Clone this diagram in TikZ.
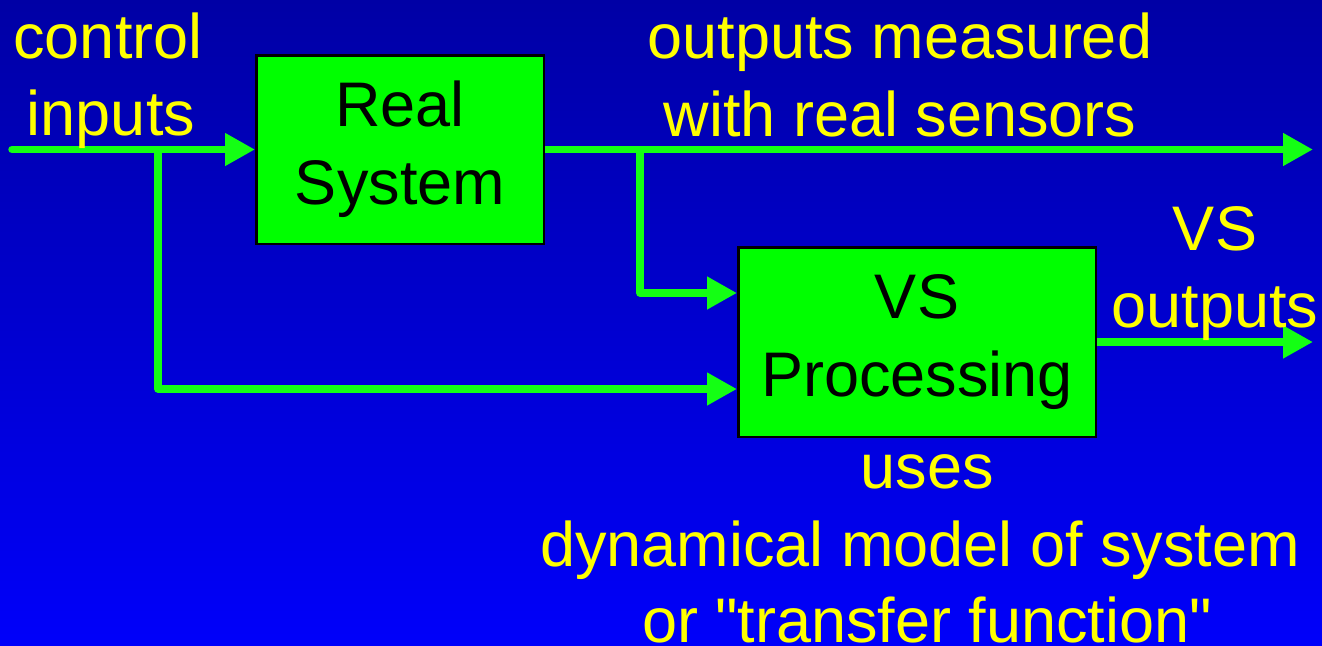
\documentclass[tikz,border=0pt]{standalone}
\usepackage{fontspec}
\newfontfamily\lsans{Liberation Sans}
\usetikzlibrary{arrows.meta}
\definecolor{bgtop}{RGB}{0,0,165}
\definecolor{bgbot}{RGB}{0,0,250}
\definecolor{boxgreen}{RGB}{0,255,0}
\definecolor{linegreen}{RGB}{20,255,20}
\definecolor{txtyellow}{RGB}{255,255,0}
\tikzset{
  blockbox/.style={draw=black, line width=2.5pt, fill=boxgreen, align=center,
    font=\lsans\fontsize{63}{78}\selectfont, text=black, inner sep=0pt},
  flow/.style={draw=linegreen, line width=7.5pt, line join=round,
    -{Triangle[length=30pt,width=31pt]}},
  lbl/.style={anchor=base, text=txtyellow, font=\lsans\fontsize{63}{78}\selectfont, inner sep=0pt}
}
\begin{document}
\begin{tikzpicture}[x=1pt,y=-1pt]
\shade[top color=bgtop, bottom color=bgbot] (0,0) rectangle (1322,645);
\useasboundingbox (0,0) rectangle (1322,645);

% blocks
\node[blockbox, minimum width=287.5pt, minimum height=188.5pt] (real) at (400,149.5) {Real\\System};
\node[blockbox, minimum width=357.5pt, minimum height=189.5pt] (vs) at (917,342) {VS\\Processing};

% connector points
\coordinate (inp) at (12,149.5);
\coordinate (b1) at (158,149.5);
\coordinate (b2) at (640,149.5);
\coordinate (outend) at (1313,149.5);
\coordinate (vsend) at (1313,342);

% connectors
\draw[flow, line cap=round] (inp) -- (real.west);
\draw[flow] (real.east) -- (outend);
\draw[flow] (b1) |- ([yshift=-47pt]vs.west);
\draw[flow] (b2) |- ([yshift=49pt]vs.west);
\draw[flow] (vs.east) -- (vsend);

% labels
\node[lbl] (ci1) at (108,58) {control};
\node[lbl] (ci2) at (111,135) {inputs};
\node[lbl] (om1) at (900,58) {outputs measured};
\node[lbl] (om2) at (900,136) {with real sensors};
\node[lbl] (vo1) at (1215,250) {VS};
\node[lbl] (vo2) at (1215,327) {outputs};
\node[lbl] (u1) at (927,488) {uses};
\node[lbl] (u2) at (920,566) {dynamical model of system};
\node[lbl] (u3) at (927,642) {or "transfer function"};
\end{tikzpicture}
\end{document}
